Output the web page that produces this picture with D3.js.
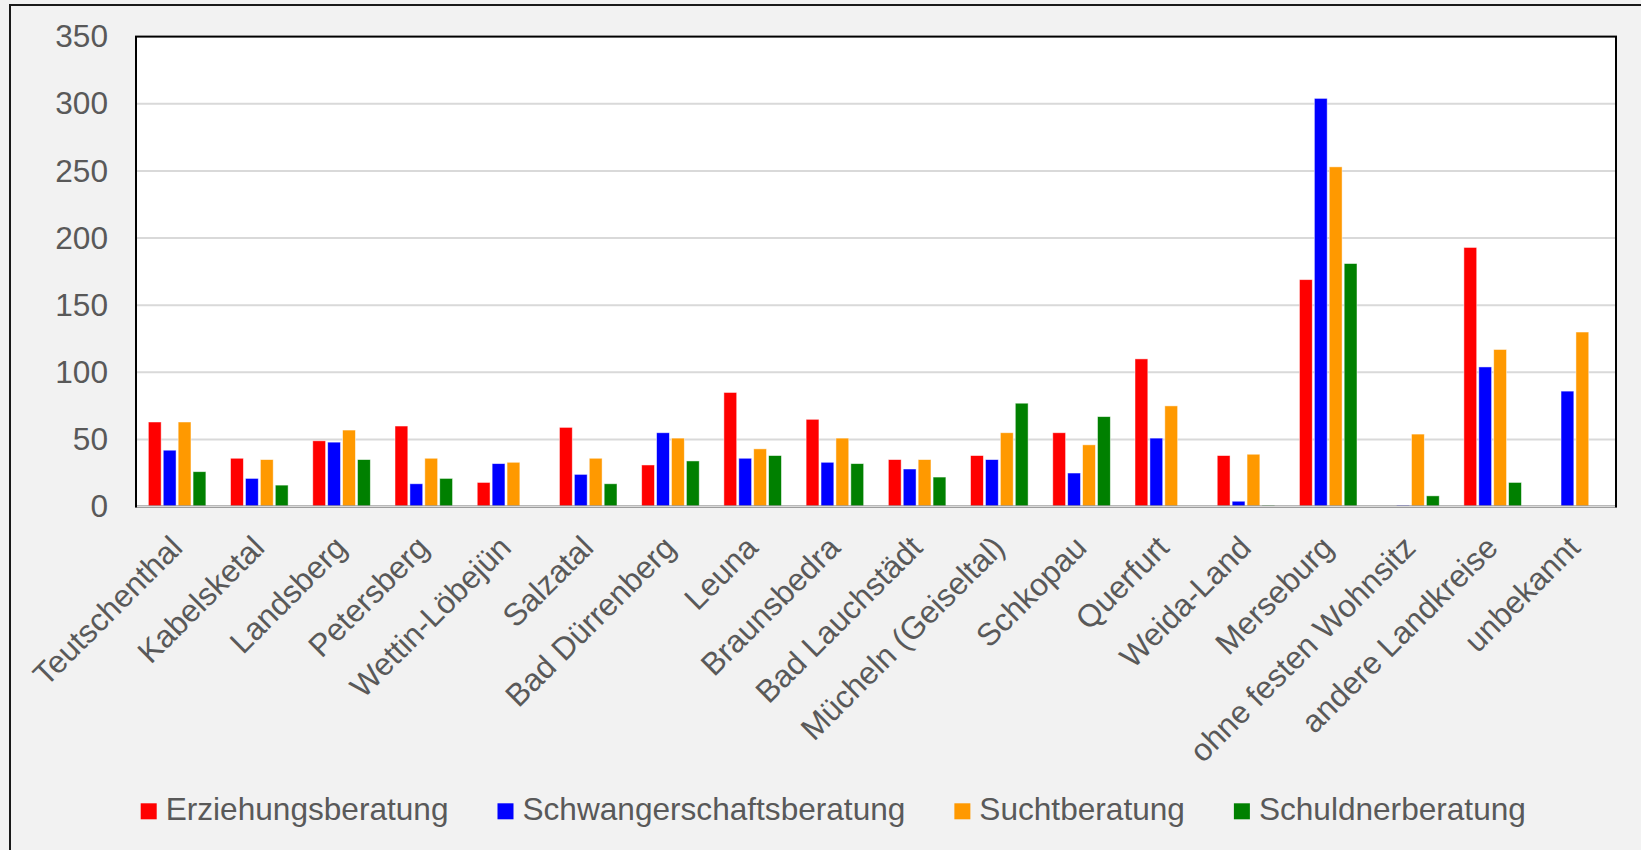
<!DOCTYPE html>
<html>
<head>
<meta charset="utf-8">
<script src="https://cdn.jsdelivr.net/npm/d3@7"></script>
<style>
  html, body { margin: 0; padding: 0; background: #F2F2F2; }
  svg { display: block; }
  text { font-family: "Liberation Sans", Arial, sans-serif; fill: #595959; }
</style>
</head>
<body>
<svg id="chart" width="1641" height="850"></svg>
<script>
const categories = ["Teutschenthal", "Kabelsketal", "Landsberg", "Petersberg", "Wettin-Löbejün",
  "Salzatal", "Bad Dürrenberg", "Leuna", "Braunsbedra", "Bad Lauchstädt", "Mücheln (Geiseltal)",
  "Schkopau", "Querfurt", "Weida-Land", "Merseburg", "ohne festen Wohnsitz", "andere Landkreise", "unbekannt"];
const seriesNames = ["Erziehungsberatung", "Schwangerschaftsberatung", "Suchtberatung", "Schuldnerberatung"];
const erziehung = [63, 36, 49, 60, 18, 59, 31, 85, 65, 35, 38, 55, 110, 38, 169, null, 193, null];
const schwanger = [42, 21, 48, 17, 32, 24, 55, 36, 33, 28, 35, 25, 51, 4, 304, 1, 104, 86];
const sucht     = [63, 35, 57, 36, 33, 36, 51, 43, 51, 35, 55, 46, 75, 39, 253, 54, 117, 130];
const schuldner = [26, 16, 35, 21, null, 17, 34, 38, 32, 22, 77, 67, null, 1, 181, 8, 18, null];
const seriesValues = [erziehung, schwanger, sucht, schuldner];
const colors = ["#FF0000", "#0000FF", "#FF9900", "#008000"];
const yTicks = [0, 50, 100, 150, 200, 250, 300, 350];

const svg = d3.select("#chart");
const W = 1641, H = 850;
const plot = { left: 136, right: 1616, top: 36.6, bottom: 506.6 };
const FS = 31.6;

// outer chart area
svg.append("rect").attr("x", 0).attr("y", 0).attr("width", W).attr("height", H).attr("fill", "#F2F2F2");
svg.append("path").attr("d", `M10,${H + 5} V5 H${W + 5}`).attr("fill", "none").attr("stroke", "#1a1a1a").attr("stroke-width", 2);

// plot area
svg.append("rect").attr("x", plot.left).attr("y", plot.top)
  .attr("width", plot.right - plot.left).attr("height", plot.bottom - plot.top).attr("fill", "#FFFFFF");

const x0 = d3.scaleBand().domain(categories).range([plot.left, plot.right]).padding(0);
const step = x0.step();
const outerPad = step * 0.15;
const x1 = d3.scaleBand().domain(seriesNames).range([outerPad, step - outerPad]).paddingInner(0.14).paddingOuter(0);
const y = d3.scaleLinear().domain([0, 350]).range([plot.bottom, plot.top]);

// gridlines
svg.append("g").selectAll("line").data(yTicks.filter(t => t > 0 && t < 350)).join("line")
  .attr("x1", plot.left).attr("x2", plot.right)
  .attr("y1", d => y(d)).attr("y2", d => y(d))
  .attr("stroke", "#D9D9D9").attr("stroke-width", 2);

// y axis labels
const yAxis = d3.axisLeft(y).tickValues(yTicks).tickSize(0).tickPadding(28);
const yg = svg.append("g").attr("transform", `translate(${plot.left},0)`).call(yAxis);
yg.select(".domain").remove();
yg.selectAll("text").attr("font-size", FS).attr("fill", "#595959")
  .attr("font-family", '"Liberation Sans", Arial, sans-serif');

// bars
const groups = svg.append("g").selectAll("g").data(categories).join("g")
  .attr("transform", d => `translate(${x0(d)},0)`);
groups.selectAll("rect")
  .data((c, i) => seriesNames.map((s, j) => ({ s, j, v: seriesValues[j][i] })).filter(d => d.v !== null))
  .join("rect")
  .attr("x", d => x1(d.s))
  .attr("width", x1.bandwidth())
  .attr("y", d => y(d.v))
  .attr("height", d => y(0) - y(d.v))
  .attr("fill", d => colors[d.j])
  .attr("stroke", "#FFFFFF").attr("stroke-width", 0.8).attr("stroke-opacity", 0.6);

// plot frame
svg.append("rect").attr("x", plot.left).attr("y", plot.top)
  .attr("width", plot.right - plot.left).attr("height", plot.bottom - plot.top)
  .attr("fill", "none").attr("stroke", "#000000").attr("stroke-width", 2);

// x axis line (gray) and rotated labels
const xAxis = d3.axisBottom(x0).tickSize(0).tickFormat(d => d);
const xg = svg.append("g").attr("transform", `translate(0,${plot.bottom})`).call(xAxis);
xg.select(".domain").attr("stroke", "#D9D9D9").attr("stroke-width", 2)
  .attr("d", `M${plot.left + 1},0H${plot.right - 1}`);
xg.selectAll(".tick text")
  .attr("font-size", FS).attr("fill", "#595959")
  .attr("font-family", '"Liberation Sans", Arial, sans-serif')
  .attr("text-anchor", "end")
  .attr("dy", 0).attr("y", 0)
  .attr("transform", `translate(${7},${43}) rotate(-45)`);

// legend
const legend = svg.append("g");
let lx = 140.7;
seriesNames.forEach((name, j) => {
  legend.append("rect").attr("x", lx).attr("y", 803.3).attr("width", 16).attr("height", 16).attr("fill", colors[j]);
  const t = legend.append("text").attr("x", lx + 25).attr("y", 820.3).attr("font-size", FS).text(name);
  const w = t.node().getComputedTextLength();
  lx = lx + 25 + w + 49;
});
</script>
</body>
</html>
